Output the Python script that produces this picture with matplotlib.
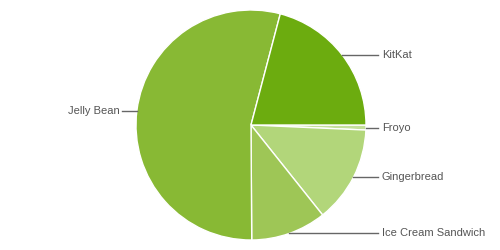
import numpy as np
import matplotlib.pyplot as plt

plt.rcParams['font.family'] = ['Liberation Sans', 'DejaVu Sans']

versions = ['Froyo', 'Gingerbread', 'Ice Cream Sandwich', 'Jelly Bean', 'KitKat']
share = [0.7, 13.6, 10.6, 54.2, 20.9]
colors = ['#c4df9a', '#b2d67a', '#9ec656', '#88b934', '#6cac0f']

cx, cy, r = 251, 125, 115  # pie centre / radius in pixel units

fig = plt.figure(figsize=(5, 2.5), dpi=100)
ax = fig.add_axes([0, 0, 1, 1])

wedges, _ = ax.pie(share, colors=colors, startangle=0, counterclock=False,
                   center=(cx, cy), radius=r,
                   wedgeprops=dict(edgecolor='white', linewidth=1))
ax.set_xlim(0, 500)
ax.set_ylim(0, 250)
ax.set_aspect('equal')
ax.axis('off')

# labels with short leader lines
for w, name in zip(wedges, versions):
    mid = np.deg2rad((w.theta1 + w.theta2) / 2)
    ax_x = cx + r * np.cos(mid)
    ax_y = cy + r * np.sin(mid)
    if ax_x >= cx:
        ax.plot([ax_x, 378], [ax_y, ax_y], color='#666666', lw=1)
        ax.text(382, ax_y, name, ha='left', va='center', fontsize=8, color='#555555')
    else:
        ax.plot([122, ax_x], [ax_y, ax_y], color='#666666', lw=1)
        ax.text(120, ax_y, name, ha='right', va='center', fontsize=8, color='#555555')

fig.savefig('out.png', dpi=100)
